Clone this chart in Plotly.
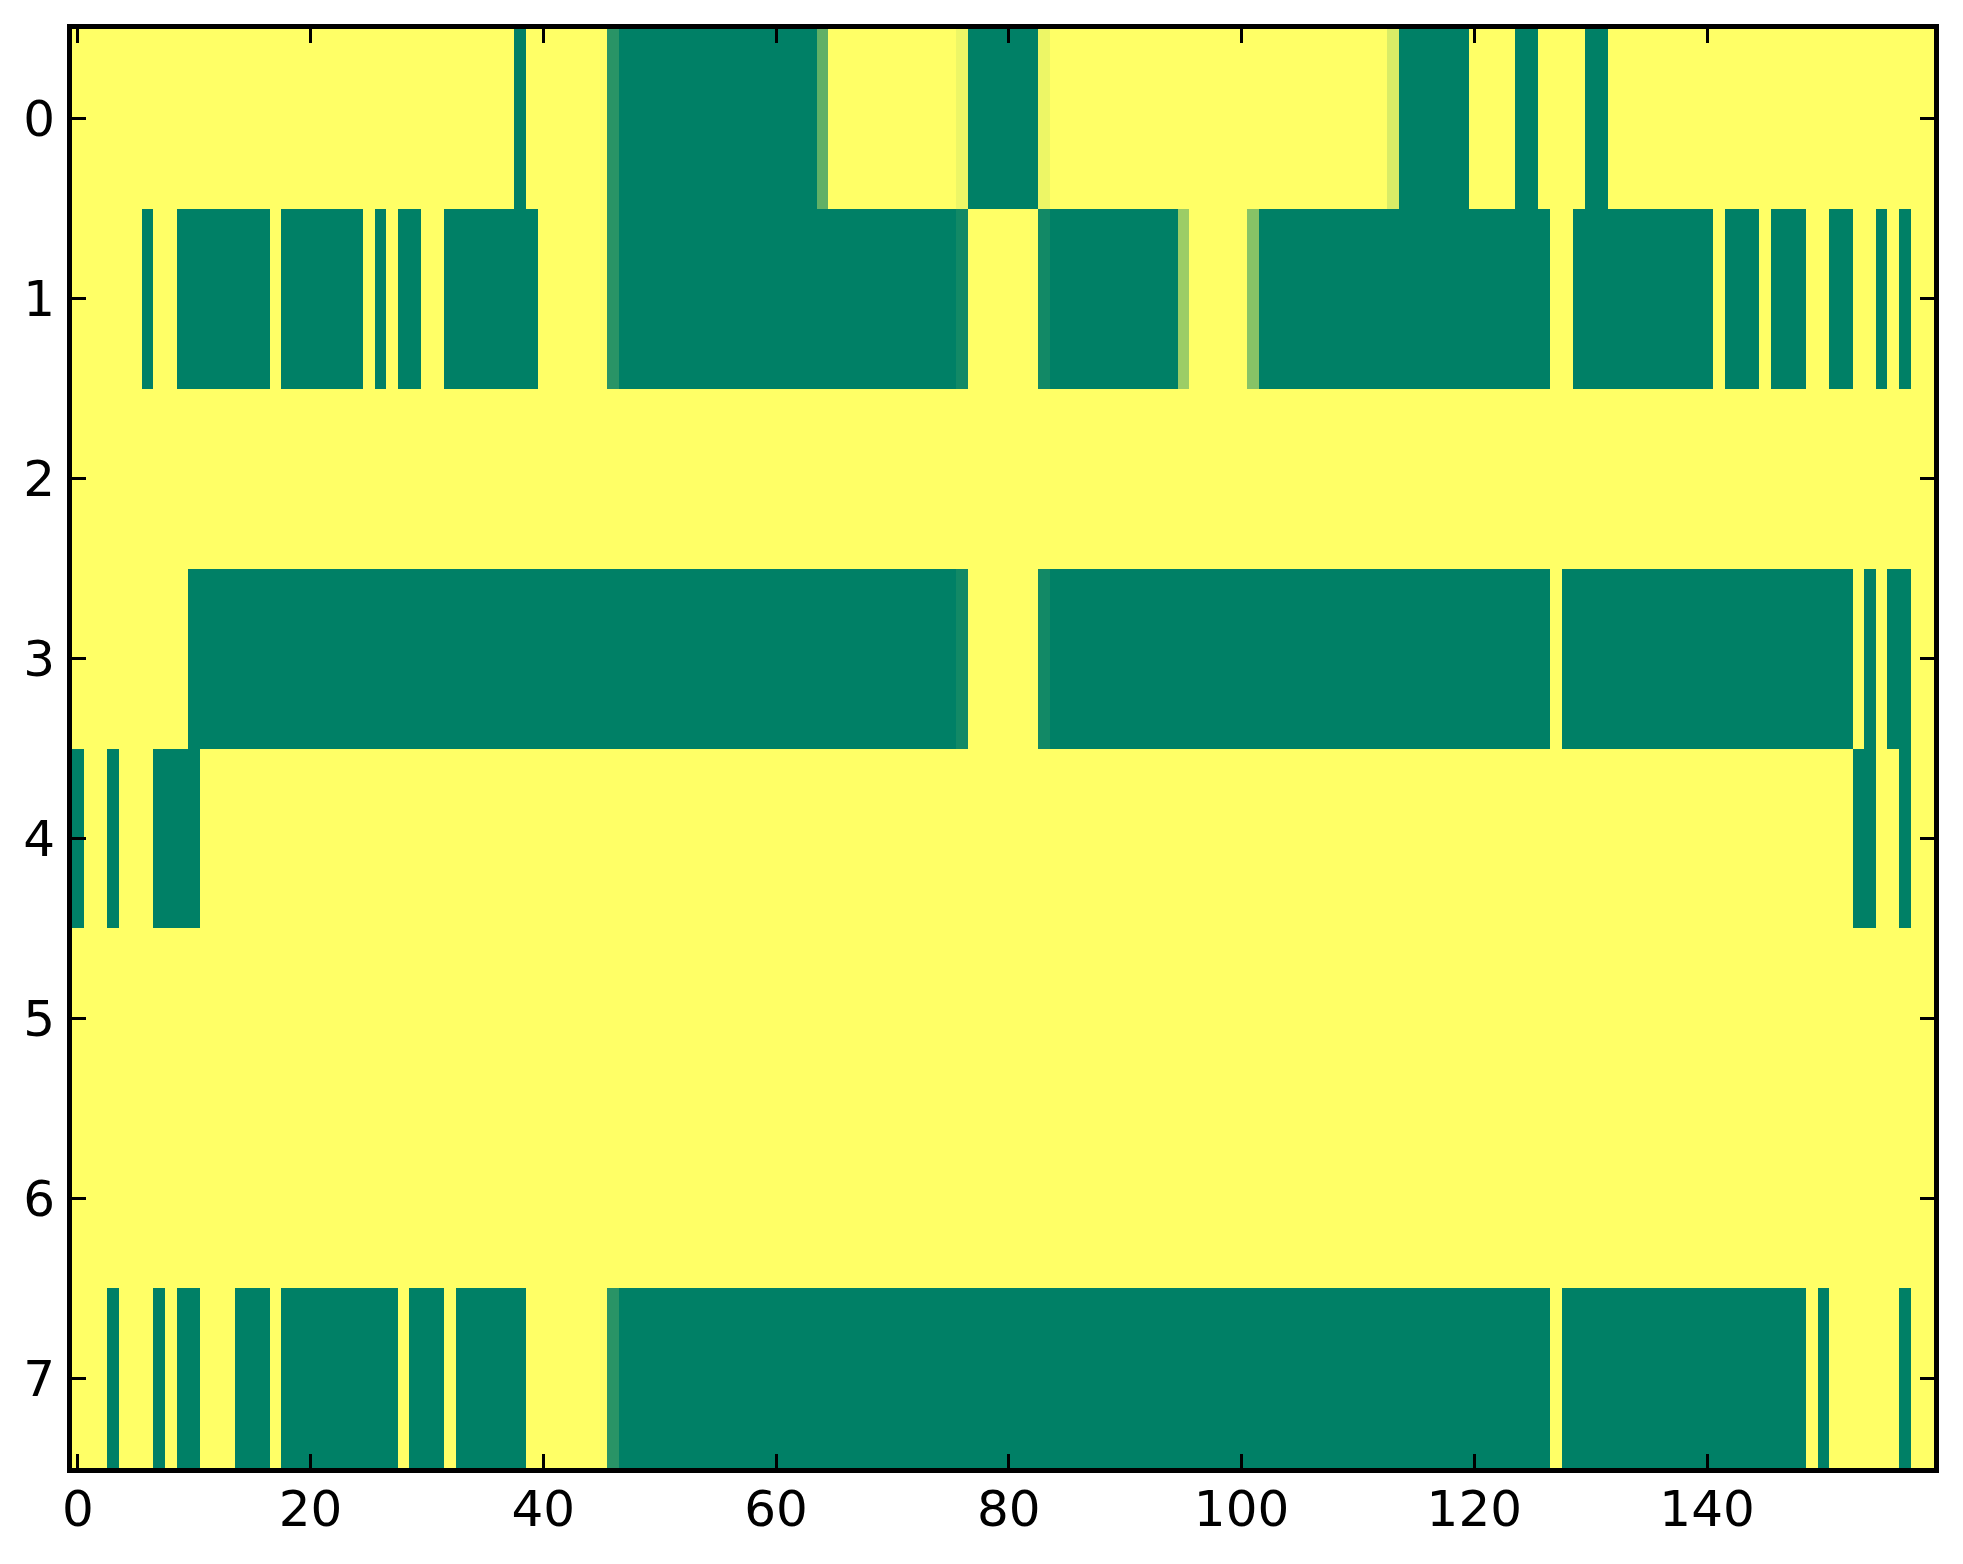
import numpy as np
import plotly.graph_objects as go

# 8 x 160 grid, background value is 1 (yellow); these are the non-yellow cells
n_rows = 8
n_cols = 160

# (first col, last col, value) for each row
row0 = [(38, 38, 0), (46, 46, 0.16), (47, 63, 0), (64, 64, 0.38), (76, 76, 0.93),
        (77, 82, 0), (83, 83, 0.93), (113, 113, 0.85), (114, 119, 0),
        (124, 125, 0), (130, 131, 0)]
row1 = [(6, 6, 0), (9, 16, 0), (18, 24, 0), (26, 26, 0), (28, 29, 0), (32, 39, 0),
        (46, 46, 0.16), (47, 75, 0), (76, 76, 0.07), (83, 83, 0.07), (84, 94, 0),
        (95, 95, 0.61), (101, 101, 0.53), (102, 126, 0), (129, 140, 0),
        (142, 144, 0), (146, 148, 0), (151, 152, 0), (155, 155, 0), (157, 157, 0)]
row2 = []
row3 = [(10, 75, 0), (76, 76, 0.07), (83, 83, 0.07), (84, 126, 0), (128, 152, 0),
        (154, 154, 0), (156, 157, 0)]
row4 = [(0, 0, 0), (3, 3, 0), (7, 10, 0), (153, 154, 0), (157, 157, 0)]
row5 = []
row6 = []
row7 = [(3, 3, 0), (7, 7, 0), (9, 10, 0), (14, 16, 0), (18, 27, 0), (29, 31, 0),
        (33, 38, 0), (46, 46, 0.16), (47, 126, 0), (128, 148, 0), (150, 150, 0),
        (157, 157, 0)]

rows = [row0, row1, row2, row3, row4, row5, row6, row7]

z = np.ones((n_rows, n_cols))
for r, segs in enumerate(rows):
    for a, b, v in segs:
        z[r, a:b + 1] = v

# matplotlib "summer"
summer = [[0, 'rgb(0,128,102)'], [1, 'rgb(255,255,102)']]

fig = go.Figure(go.Heatmap(
    z=z,
    x=list(range(n_cols)),
    y=list(range(n_rows)),
    colorscale=summer,
    zmin=0, zmax=1,
    showscale=False,
    hoverinfo='skip',
))

axis_style = dict(
    showline=True, linewidth=5, linecolor='black', mirror='ticks',
    ticks='inside', ticklen=14, tickwidth=2.5, tickcolor='black',
    showgrid=False, zeroline=False,
    tickfont=dict(family='DejaVu Sans', size=50, color='black'),
)

fig.update_xaxes(range=[-0.5, n_cols - 0.5], tick0=0, dtick=20,
                 ticklabelstandoff=-7, **axis_style)
fig.update_yaxes(range=[n_rows - 0.5, -0.5], tick0=0, dtick=1,
                 ticklabelstandoff=2, **axis_style)

# page body has an 8px margin, so the figure is a bit smaller than the window
fig.update_layout(
    width=1947, height=1548,
    margin=dict(l=64, r=21, t=21, b=88),
    paper_bgcolor='white', plot_bgcolor='white',
)

fig.write_html("out.html")
